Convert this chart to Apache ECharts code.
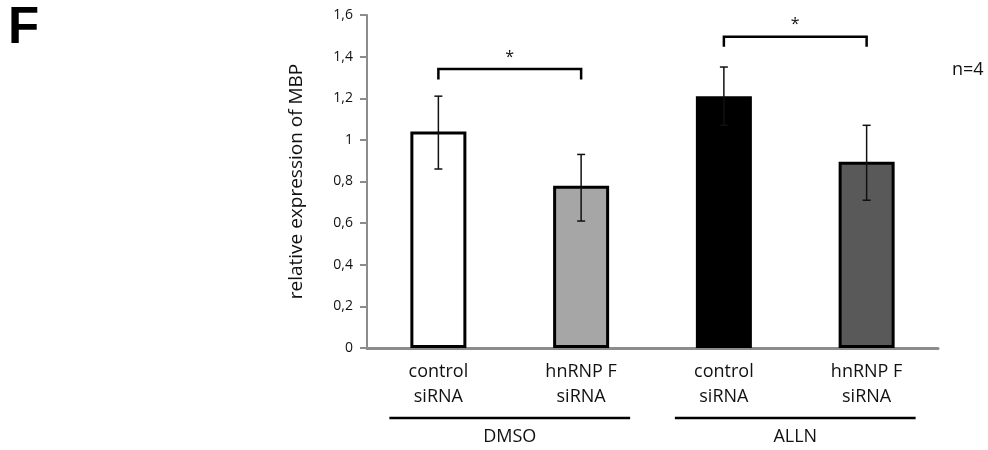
<!DOCTYPE html>
<html>
<head>
<meta charset="utf-8">
<script src="https://cdn.jsdelivr.net/npm/echarts@6/dist/echarts.min.js"></script>
<style>
  html, body { margin: 0; padding: 0; background: #fff; }
  #chart { width: 988px; height: 450px; }
</style>
</head>
<body>
<div id="chart"></div>
<script>
// categories and groups
const categories = ['control\nsiRNA', 'hnRNP F\nsiRNA', 'control\nsiRNA', 'hnRNP F\nsiRNA']
const groups = ['DMSO', 'ALLN']
const groupMembers = [[0, 1], [2, 3]]

// mean relative expression of MBP, with error bar ends
const means = [1.04, 0.78, 1.21, 0.895]
const errLow = [0.86, 0.61, 1.07, 0.71]
const errHigh = [1.21, 0.93, 1.35, 1.07]
const barColors = ['#ffffff', '#a6a6a6', '#000000', '#595959']

// y tick labels (comma decimals)
const yTickLabels = ['0', '0,2', '0,4', '0,6', '0,8', '1', '1,2', '1,4', '1,6']

// significance brackets: [from, to], bracket level, tip level
const sigPairs = [[0, 1], [2, 3]]
const sigLevels = [1.34, 1.495]
const sigTips = [1.29, 1.447]
const sigMarks = ['*', '*']

const FONT = '"Open Sans", "DejaVu Sans", sans-serif'
const AXIS_GREY = '#8c8c8c'
const TEXT = '#111'

const chart = echarts.init(document.getElementById('chart'))

const option = {
  animation: false,
  grid: { left: 367, right: 50, top: 15, bottom: 102, containLabel: false },
  xAxis: [
    {
      type: 'category',
      data: categories,
      axisLine: { show: true, lineStyle: { color: AXIS_GREY, width: 3 } },
      axisTick: { show: false },
      axisLabel: {
        color: TEXT,
        fontFamily: FONT,
        fontSize: 18,
        lineHeight: 25,
        margin: 11,
        interval: 0,
      },
    },
    {
      type: 'category',
      data: groups,
      position: 'bottom',
      offset: 80,
      axisLine: { show: false },
      axisTick: { show: false },
      axisLabel: {
        color: TEXT,
        fontFamily: FONT,
        fontSize: 18,
        margin: 0,
      },
    },
  ],
  yAxis: {
    type: 'value',
    min: 0,
    max: 1.6,
    interval: 0.2,
    name: 'relative expression of MBP',
    nameLocation: 'middle',
    nameGap: 61,
    nameTextStyle: { color: TEXT, fontFamily: FONT, fontSize: 19 },
    axisLine: { show: true, lineStyle: { color: AXIS_GREY, width: 2 } },
    axisTick: { show: true, length: 7, lineStyle: { color: AXIS_GREY, width: 2 } },
    splitLine: { show: false },
    axisLabel: {
      color: TEXT,
      fontFamily: FONT,
      fontSize: 14,
      margin: 14,
      formatter: (v) => yTickLabels[Math.round(v / 0.2)],
    },
  },
  series: [
    {
      type: 'bar',
      barWidth: 56,
      data: means.map((v, i) => ({
        value: v,
        itemStyle: { color: barColors[i], borderColor: '#000', borderWidth: 3 },
      })),
      z: 2,
    },
    {
      type: 'custom',
      z: 3,
      data: categories.map((c, i) => [i, errLow[i], errHigh[i]]),
      renderItem: (params, api) => {
        const lo = api.coord([api.value(0), api.value(1)])
        const hi = api.coord([api.value(0), api.value(2)])
        const cap = 4
        const style = { stroke: '#111', lineWidth: 1.5 }
        return {
          type: 'group',
          children: [
            { type: 'line', shape: { x1: lo[0], y1: lo[1], x2: hi[0], y2: hi[1] }, style },
            { type: 'line', shape: { x1: hi[0] - cap, y1: hi[1], x2: hi[0] + cap, y2: hi[1] }, style },
            { type: 'line', shape: { x1: lo[0] - cap, y1: lo[1], x2: lo[0] + cap, y2: lo[1] }, style },
          ],
        }
      },
    },
    {
      type: 'custom',
      z: 3,
      data: sigPairs.map((p, i) => [p[0], p[1], sigLevels[i], sigTips[i]]),
      renderItem: (params, api) => {
        const a = api.coord([api.value(0), api.value(2)])
        const b = api.coord([api.value(1), api.value(2)])
        const ta = api.coord([api.value(0), api.value(3)])
        return {
          type: 'group',
          children: [
            {
              type: 'polyline',
              shape: { points: [[a[0], ta[1]], [a[0], a[1]], [b[0], a[1]], [b[0], ta[1]]] },
              style: { stroke: '#000', lineWidth: 2.5, fill: null },
            },
            {
              type: 'text',
              style: {
                text: sigMarks[params.dataIndex],
                x: (a[0] + b[0]) / 2,
                y: a[1] - 12,
                align: 'center',
                verticalAlign: 'middle',
                fontFamily: FONT,
                fontSize: 16,
                fill: '#111',
              },
            },
          ],
        }
      },
    },
  ],
}

chart.setOption(option)

// group underlines beneath the category labels
const lineY = 418
const pad = 49
const groupLines = groupMembers.map((m) => {
  const x1 = chart.convertToPixel({ xAxisIndex: 0 }, m[0]) - pad
  const x2 = chart.convertToPixel({ xAxisIndex: 0 }, m[1]) + pad
  return {
    type: 'line',
    shape: { x1, y1: lineY, x2, y2: lineY },
    style: { stroke: '#000', lineWidth: 2.5 },
  }
})

chart.setOption({
  graphic: [
    ...groupLines,
    {
      type: 'text',
      left: 8,
      top: 3,
      style: { text: 'F', fontFamily: '"Liberation Sans", Arial, sans-serif', fontWeight: 'bold', fontSize: 51, fill: '#000' },
    },
    {
      type: 'text',
      left: 952,
      top: 61,
      style: { text: 'n=4', fontFamily: FONT, fontSize: 18, fill: TEXT },
    },
  ],
})
</script>
</body>
</html>
